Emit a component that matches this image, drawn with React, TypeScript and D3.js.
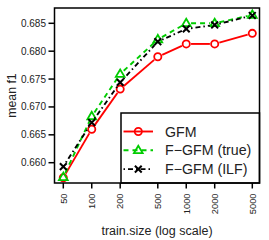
import React from "react";
import * as d3 from "d3";

const trainSizes = [50, 100, 200, 500, 1000, 2000, 5000];
const gfm = [0.6573, 0.666, 0.6732, 0.679, 0.6813, 0.6813, 0.6832];
const fgfmTrue = [0.6574, 0.6683, 0.6759, 0.6821, 0.685, 0.685, 0.6865];
const fgfmILF = [0.6593, 0.6672, 0.6744, 0.6817, 0.684, 0.6847, 0.6864];
const yTicks = [0.66, 0.665, 0.67, 0.675, 0.68, 0.685];
const seriesNames = ["GFM", "F\u2212GFM (true)", "F\u2212GFM (ILF)"];

const W = 269, H = 240;
const box = { left: 54.5, right: 259.5, top: 8, bottom: 183 };
const FONT = "'Liberation Sans', Arial, Helvetica, sans-serif";

const x = d3.scaleLog().domain([50, 5000]).range([63.3, 252.3]);
const y = d3.scaleLinear().domain([0.66, 0.685]).range([162.7, 23.3]);

type Marker = "circle" | "triangle" | "cross";

function MarkerShape({ cx, cy, kind, color }: { cx: number; cy: number; kind: Marker; color: string }) {
  if (kind === "circle") return <circle cx={cx} cy={cy} r={3.6} fill="none" stroke={color} strokeWidth={1.8} />;
  if (kind === "triangle") {
    const s = 4.6;
    const p = `${cx},${cy - s} ${cx - s * 0.95},${cy + s * 0.62} ${cx + s * 0.95},${cy + s * 0.62}`;
    return <polygon points={p} fill="none" stroke={color} strokeWidth={1.8} strokeLinejoin="miter" />;
  }
  const s = 3.4;
  return (
    <path d={`M${cx - s},${cy - s}L${cx + s},${cy + s}M${cx - s},${cy + s}L${cx + s},${cy - s}`} stroke={color} strokeWidth={2} fill="none" />
  );
}

function Series({ values, color, dash, kind }: { values: number[]; color: string; dash?: string; kind: Marker }) {
  const pts = trainSizes.map((t, i) => [x(t), y(values[i])] as [number, number]);
  const gap = 4.8;
  const segs: string[] = [];
  for (let i = 0; i < pts.length - 1; i++) {
    const [x0, y0] = pts[i];
    const [x1, y1] = pts[i + 1];
    const len = Math.hypot(x1 - x0, y1 - y0);
    if (len <= 2 * gap) continue;
    const ux = (x1 - x0) / len, uy = (y1 - y0) / len;
    segs.push(`M${x0 + ux * gap},${y0 + uy * gap}L${x1 - ux * gap},${y1 - uy * gap}`);
  }
  return (
    <g>
      {segs.map((d, i) => (
        <path key={i} d={d} stroke={color} strokeWidth={1.9} fill="none" strokeDasharray={dash} />
      ))}
      {pts.map(([px, py], i) => (
        <MarkerShape key={i} cx={px} cy={py} kind={kind} color={color} />
      ))}
    </g>
  );
}

const styles: { color: string; dash?: string; kind: Marker; values: number[] }[] = [
  { color: "#FF0000", kind: "circle", values: gfm },
  { color: "#00CC00", dash: "5,4", kind: "triangle", values: fgfmTrue },
  { color: "#000000", dash: "1.5,3,5,3", kind: "cross", values: fgfmILF },
];

export default function App() {
  const legend = { left: 121, top: 113, rowY: [131.5, 150.3, 169.1] };
  return (
    <svg width={W} height={H} style={{ position: "absolute", left: 0, top: 0, background: "#fff" }} fontFamily={FONT}>
      <rect x={0} y={0} width={W} height={H} fill="#fff" />
      {/* y axis ticks */}
      {yTicks.map((t) => (
        <g key={t}>
          <line x1={box.left - 6} x2={box.left} y1={y(t)} y2={y(t)} stroke="#000" strokeWidth={1.5} />
          <text x={box.left - 8.5} y={y(t)} dy="0.35em" textAnchor="end" fontSize={10} fill="#222">
            {d3.format(".3f")(t)}
          </text>
        </g>
      ))}
      {/* x axis ticks */}
      {trainSizes.map((t) => (
        <g key={t}>
          <line x1={x(t)} x2={x(t)} y1={box.bottom} y2={box.bottom + 5.5} stroke="#000" strokeWidth={1.5} />
          <text
            transform={`translate(${x(t)},${box.bottom + 10.5}) rotate(-90)`}
            dy="0.35em"
            textAnchor="end"
            fontSize={9.3}
            fill="#222"
          >
            {t}
          </text>
        </g>
      ))}
      <text x={(box.left + box.right) / 2} y={234.5} textAnchor="middle" fontSize={12.5} fill="#222">
        train.size (log scale)
      </text>
      <text transform={`translate(15.5,${(box.top + box.bottom) / 2}) rotate(-90)`} textAnchor="middle" fontSize={12.3} fill="#222">
        mean f1
      </text>
      {styles.map((s, i) => (
        <Series key={i} values={s.values} color={s.color} dash={s.dash} kind={s.kind} />
      ))}
      {/* legend */}
      <rect x={legend.left} y={legend.top} width={box.right - legend.left} height={box.bottom - legend.top} fill="#fff" stroke="#000" strokeWidth={1.5} />
      {styles.map((s, i) => {
        const ly = legend.rowY[i];
        return (
          <g key={i}>
            <line x1={123.5} x2={153} y1={ly} y2={ly} stroke={s.color} strokeWidth={1.9} strokeDasharray={s.dash} />
            <rect x={134} y={ly - 5} width={8} height={10} fill="#fff" opacity={0} />
            <MarkerShape cx={138.3} cy={ly} kind={s.kind} color={s.color} />
            <text x={165} y={ly} dy="0.36em" fontSize={14.2} fill="#222">
              {seriesNames[i]}
            </text>
          </g>
        );
      })}
      <rect x={box.left} y={box.top} width={box.right - box.left} height={box.bottom - box.top} fill="none" stroke="#000" strokeWidth={1.5} />
    </svg>
  );
}
